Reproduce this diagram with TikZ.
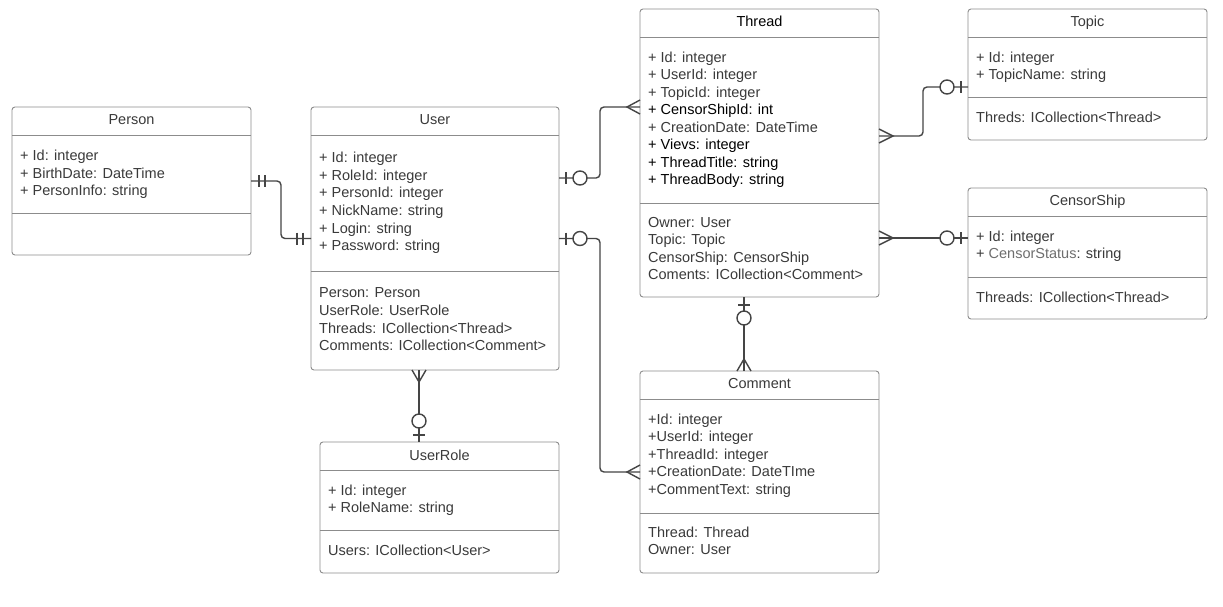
\documentclass[tikz,border=0pt]{standalone}
\usepackage{fontspec}
\setmainfont{Liberation Sans}
\usetikzlibrary{calc}
\definecolor{boxc}{HTML}{8C8C8C}
\definecolor{linec}{HTML}{454545}
\definecolor{txtc}{HTML}{3A3A3A}
\definecolor{txtl}{HTML}{6E6E6E}
\begin{document}
\begin{tikzpicture}[x=1pt,y=-1pt,
 box/.style={draw=boxc, line width=0.9pt, rounded corners=3pt, anchor=north west, inner sep=0pt, outer sep=0pt, fill=white},
 div/.style={draw=boxc, line width=0.9pt},
 txt/.style={anchor=base west, inner sep=0pt, text=txtc, font=\fontsize{14.5}{17.6}\selectfont},
 txtb/.style={txt, text=black},
 ttl/.style={anchor=base, inner sep=0pt, text=txtc, font=\fontsize{14.5}{17.6}\selectfont},
 conn/.style={draw=linec, line width=1.4pt, rounded corners=4pt},
 mk/.style={draw=linec, line width=1.4pt},
 circ/.style={draw=linec, fill=white, line width=1.4pt, circle, minimum size=14pt, inner sep=0pt}
]
\useasboundingbox (0,0) rectangle (1223,606);
\fill[white] (0,0) rectangle (1223,606);

% boxes
\node[box, minimum width=239pt, minimum height=148pt] (person) at (12,107) {};
\node[box, minimum width=248pt, minimum height=263pt] (user) at (311,107) {};
\node[box, minimum width=239pt, minimum height=288pt] (thread) at (640,9) {};
\node[box, minimum width=239pt, minimum height=131pt] (topic) at (968,9) {};
\node[box, minimum width=239pt, minimum height=131pt] (censor) at (968,188) {};
\node[box, minimum width=239pt, minimum height=202pt] (comment) at (640,371) {};
\node[box, minimum width=239pt, minimum height=131pt] (userrole) at (320,442) {};

% dividers
\draw[div] ($(person.north west)+(0,28)$) -- ($(person.north east)+(0,28)$);
\draw[div] ($(person.north west)+(0,106)$) -- ($(person.north east)+(0,106)$);
\draw[div] ($(user.north west)+(0,28)$) -- ($(user.north east)+(0,28)$);
\draw[div] ($(user.north west)+(0,164)$) -- ($(user.north east)+(0,164)$);
\draw[div] ($(thread.north west)+(0,28)$) -- ($(thread.north east)+(0,28)$);
\draw[div] ($(thread.north west)+(0,194)$) -- ($(thread.north east)+(0,194)$);
\draw[div] ($(topic.north west)+(0,28)$) -- ($(topic.north east)+(0,28)$);
\draw[div] ($(topic.north west)+(0,88)$) -- ($(topic.north east)+(0,88)$);
\draw[div] ($(censor.north west)+(0,28)$) -- ($(censor.north east)+(0,28)$);
\draw[div] ($(censor.north west)+(0,89)$) -- ($(censor.north east)+(0,89)$);
\draw[div] ($(comment.north west)+(0,28)$) -- ($(comment.north east)+(0,28)$);
\draw[div] ($(comment.north west)+(0,142)$) -- ($(comment.north east)+(0,142)$);
\draw[div] ($(userrole.north west)+(0,28)$) -- ($(userrole.north east)+(0,28)$);
\draw[div] ($(userrole.north west)+(0,88)$) -- ($(userrole.north east)+(0,88)$);

% titles
\node[ttl] (personT) at ($(person.north)+(0,17)$) {Person};
\node[ttl] (userT) at ($(user.north)+(0,17)$) {User};
\node[ttl, text=black] (threadT) at ($(thread.north)+(0,17)$) {Thread};
\node[ttl] (topicT) at ($(topic.north)+(0,17)$) {Topic};
\node[ttl] (censorT) at ($(censor.north)+(0,17)$) {CensorShip};
\node[ttl] (commentT) at ($(comment.north)+(0,17)$) {Comment};
\node[ttl] (userroleT) at ($(userrole.north)+(0,18)$) {UserRole};

% Person
\node[txt] (p1) at (20,160.5) {+ Id: integer};
\node[txt] (p2) at (20,178) {+ BirthDate: DateTime};
\node[txt] (p3) at (20,195.5) {+ PersonInfo: string};

% User
\node[txt] (u1) at (319,162.3) {+ Id: integer};
\node[txt] (u2) at (319,180) {+ RoleId: integer};
\node[txt] (u3) at (319,197.7) {+ PersonId: integer};
\node[txt] (u4) at (319,215.4) {+ NickName: string};
\node[txt] (u5) at (319,233.1) {+ Login: string};
\node[txt] (u6) at (319,250.8) {+ Password: string};
\node[txt] (u7) at (319,297.7) {Person: Person};
\node[txt] (u8) at (319,315.4) {UserRole: UserRole};
\node[txt] (u9) at (319,333.1) {Threads: ICollection<Thread>};
\node[txt] (u10) at (319,350.8) {Comments: ICollection<Comment>};

% Thread
\node[txt] (t1) at (648,62.3) {+ Id: integer};
\node[txt] (t2) at (648,79.8) {+ UserId: integer};
\node[txt] (t3) at (648,97.3) {+ TopicId: integer};
\node[txtb] (t4) at (648,114.8) {+ CensorShipId: int};
\node[txt] (t5) at (648,132.3) {+ CreationDate: DateTime};
\node[txtb] (t6) at (648,149.8) {+ Vievs: integer};
\node[txtb] (t7) at (648,167.3) {+ ThreadTitle: string};
\node[txtb] (t8) at (648,184.8) {+ ThreadBody: string};
\node[txt] (t9) at (648,227.3) {Owner: User};
\node[txt] (t10) at (648,244.8) {Topic: Topic};
\node[txt] (t11) at (648,262.3) {CensorShip: CensorShip};
\node[txt] (t12) at (648,279.8) {Coments: ICollection<Comment>};

% Topic
\node[txt] (tp1) at (976,62) {+ Id: integer};
\node[txt] (tp2) at (976,79.5) {+ TopicName: string};
\node[txt] (tp3) at (976,122) {Threds: ICollection<Thread>};

% CensorShip
\node[txt] (cs1) at (976,241) {+ Id: integer};
\node[txt] (cs2) at (976,258.5) {+ {\color{txtl}CensorStatus}: string};
\node[txt] (cs3) at (976,302) {Threads: ICollection<Thread>};

% Comment
\node[txt] (cm1) at (648,424) {+Id: integer};
\node[txt] (cm2) at (648,441.5) {+UserId: integer};
\node[txt] (cm3) at (648,459) {+ThreadId: integer};
\node[txt] (cm4) at (648,476.5) {+CreationDate: DateTIme};
\node[txt] (cm5) at (648,494) {+CommentText: string};
\node[txt] (cm6) at (648,537) {Thread: Thread};
\node[txt] (cm7) at (648,554.5) {Owner: User};

% UserRole
\node[txt] (ur1t) at (328,495) {+ Id: integer};
\node[txt] (ur2t) at (328,512.5) {+ RoleName: string};
\node[txt] (ur3t) at (328,555) {Users: ICollection<User>};

% ---- connectors ----
% Person - User
\draw[conn] (person.east) -| ($(person.east)!0.5!(user.west)$) |- (user.west);
\draw[mk] ($(person.east)+(8,-6)$) -- ++(0,12);
\draw[mk] ($(person.east)+(14,-6)$) -- ++(0,12);
\draw[mk] ($(user.west)+(-14,-6)$) -- ++(0,12);
\draw[mk] ($(user.west)+(-8,-6)$) -- ++(0,12);

% User - Thread
\coordinate (ut1) at ($(user.north east)+(0,71)$);
\coordinate (ut2) at ($(thread.north west)+(0,98)$);
\draw[conn] (ut1) -- ++(41,0) |- (ut2);
\draw[mk] ($(ut1)+(7,-6)$) -- ++(0,12);
\node[circ] (c1) at ($(ut1)+(21,0)$) {};
\draw[mk] ($(ut2)+(0,-7)$) -- ($(ut2)+(-13,0)$) -- ($(ut2)+(0,7)$);

% User - Comment
\draw[conn] (user.east) -- ++(41,0) |- (comment.west);
\draw[mk] ($(user.east)+(7,-6)$) -- ++(0,12);
\node[circ] (c2) at ($(user.east)+(21,0)$) {};
\draw[mk] ($(comment.west)+(0,-7)$) -- ($(comment.west)+(-13,0)$) -- ($(comment.west)+(0,7)$);

% Thread - Topic
\coordinate (tt1) at ($(thread.north east)+(0,127)$);
\coordinate (tt2) at ($(topic.north west)+(0,78)$);
\draw[conn] (tt1) -- ++(44,0) |- (tt2);
\draw[mk] ($(tt1)+(0,-7)$) -- ($(tt1)+(14,0)$) -- ($(tt1)+(0,7)$);
\node[circ] (c3) at ($(tt2)+(-21,0)$) {};
\draw[mk] ($(tt2)+(-7,-6)$) -- ++(0,12);

% Thread - CensorShip
\coordinate (tc1) at ($(thread.north east)+(0,229)$);
\coordinate (tc2) at (censor.west |- tc1);
\draw[conn] (tc1) -- (tc2);
\draw[mk] ($(tc1)+(0,-7)$) -- ($(tc1)+(14,0)$) -- ($(tc1)+(0,7)$);
\node[circ] (c4) at ($(tc2)+(-21,0)$) {};
\draw[mk] ($(tc2)+(-7,-6)$) -- ++(0,12);

% Thread - Comment
\coordinate (tm1) at ($(thread.south west)+(104,0)$);
\coordinate (tm2) at ($(comment.north west)+(104,0)$);
\draw[conn] (tm1) -- (tm2);
\draw[mk] ($(tm1)+(-6,8)$) -- ++(12,0);
\node[circ] (c5) at ($(tm1)+(0,21)$) {};
\draw[mk] ($(tm2)+(-7,0)$) -- ($(tm2)+(0,-12)$) -- ($(tm2)+(7,0)$);

% User - UserRole
\coordinate (ur1) at ($(user.south west)+(108,0)$);
\coordinate (ur2) at ($(userrole.north west)+(99,0)$);
\draw[conn] (ur1) -- (ur2);
\draw[mk] ($(ur1)+(-7,0)$) -- ($(ur1)+(0,12)$) -- ($(ur1)+(7,0)$);
\node[circ] (c6) at ($(ur2)+(0,-21)$) {};
\draw[mk] ($(ur2)+(-6,-7)$) -- ++(12,0);
\end{tikzpicture}
\end{document}
